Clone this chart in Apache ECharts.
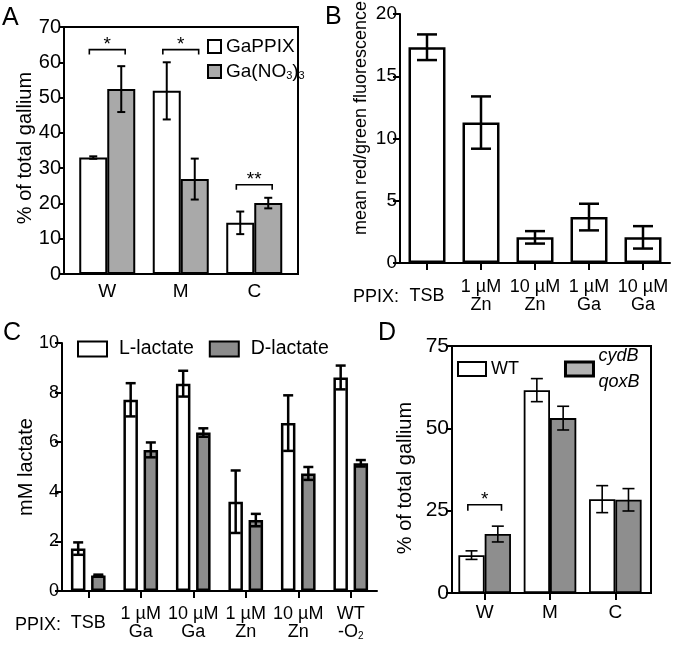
<!DOCTYPE html>
<html>
<head>
<meta charset="utf-8">
<script src="https://cdn.jsdelivr.net/npm/echarts@6/dist/echarts.min.js"></script>
<style>html,body{margin:0;padding:0;background:#fff}#c{width:675px;height:654px}</style>
</head>
<body>
<div id="c"></div>
<script>
// ---------- Panel A ----------
const aCategories = ['W', 'M', 'C'];
const aGaPPIX = [33.0, 51.9, 14.5];
const aGaPPIXErr = [0.35, 8.1, 3.2];
const aGaNO3 = [52.4, 26.9, 20.1];
const aGaNO3Err = [6.5, 5.8, 1.5];
const aSig = [[0, 63.6, '*'], [1, 63.6, '*'], [2, 25.3, '**']];
const aTicks = [0, 10, 20, 30, 40, 50, 60, 70];

// ---------- Panel B ----------
const bCategories = ['TSB', '1 µM\nZn', '10 µM\nZn', '1 µM\nGa', '10 µM\nGa'];
const bValues = [17.33, 11.28, 2.06, 3.69, 2.06];
const bErr = [1.03, 2.1, 0.5, 1.07, 0.9];
const bTicks = [0, 5, 10, 15, 20];

// ---------- Panel C ----------
const cCategories = ['TSB', '1 µM\nGa', '10 µM\nGa', '1 µM\nZn', '10 µM\nZn', 'WT\n-O2'];
const cL = [1.71, 7.71, 8.36, 3.6, 6.77, 8.61];
const cLErr = [0.25, 0.67, 0.52, 1.26, 1.12, 0.48];
const cD = [0.63, 5.69, 6.39, 2.86, 4.74, 5.15];
const cDErr = [0.03, 0.3, 0.17, 0.25, 0.26, 0.13];
const cTicks = [0, 2, 4, 6, 8, 10];

// ---------- Panel D ----------
const dCategories = ['W', 'M', 'C'];
const dWT = [11.5, 61.6, 28.5];
const dWTErr = [1.3, 3.5, 4.1];
const dMut = [17.9, 53.1, 28.3];
const dMutErr = [2.4, 3.6, 3.4];
const dSig = [[0, 26.8, '*']];
const dTicks = [0, 25, 50, 75];

const FONT = 'Liberation Sans, Arial, Helvetica, sans-serif';
const BLACK = '#000';

function layoutX(api, catX, k, n, catGap, barGap) {
  const band = api.size([1, 0])[0];
  const bw = band * (1 - catGap) / (n + (n - 1) * barGap);
  const total = n * bw + (n - 1) * barGap * bw;
  return { x: catX - total / 2 + k * bw * (1 + barGap) + bw / 2, bw: bw };
}

function errSeries(xi, yi, vals, errs, k, n, catGap, barGap, capW, lw) {
  return {
    type: 'custom', xAxisIndex: xi, yAxisIndex: yi, z: 10, silent: true,
    encode: { x: 0, y: [1, 2] },
    data: vals.map((v, i) => [i, v - errs[i], v + errs[i]]),
    renderItem: function (params, api) {
      const lo = api.coord([api.value(0), api.value(1)]);
      const hi = api.coord([api.value(0), api.value(2)]);
      const x = layoutX(api, lo[0], k, n, catGap, barGap).x;
      const st = { stroke: BLACK, lineWidth: lw };
      return { type: 'group', children: [
        { type: 'line', shape: { x1: x, y1: lo[1], x2: x, y2: hi[1] }, style: st },
        { type: 'line', shape: { x1: x - capW / 2, y1: lo[1], x2: x + capW / 2, y2: lo[1] }, style: st },
        { type: 'line', shape: { x1: x - capW / 2, y1: hi[1], x2: x + capW / 2, y2: hi[1] }, style: st }
      ]};
    }
  };
}

function sigSeries(xi, yi, sig, n, catGap, barGap, tip, fs) {
  return {
    type: 'custom', xAxisIndex: xi, yAxisIndex: yi, z: 10, silent: true,
    encode: { x: 0, y: 1 },
    data: sig,
    renderItem: function (params, api) {
      const p = api.coord([api.value(0), api.value(1)]);
      const bw = layoutX(api, p[0], 0, n, catGap, barGap).bw;
      const hw = bw * 0.64;
      const x1 = p[0] - hw, x2 = p[0] + hw;
      return { type: 'group', children: [
        { type: 'polyline', shape: { points: [[x1, p[1] + tip], [x1, p[1]], [x2, p[1]], [x2, p[1] + tip]] },
          style: { stroke: BLACK, lineWidth: 1.6, fill: null } },
        { type: 'text', x: p[0], y: p[1] + 5,
          style: { text: sig[params.dataIndex][2], font: fs + 'px ' + FONT, fill: BLACK,
                   align: 'center', verticalAlign: 'bottom' } }
      ]};
    }
  };
}

const chart = echarts.init(document.getElementById('c'), null, { renderer: 'canvas' });

const A_CG = 0.238, A_BG = 0;
const B_CG = 0.315;
const C_CG = 0.34, C_BG = 0.39;
const D_CG = 0.195, D_BG = 0;

const hiddenY = (gi, max) => ({ type: 'value', gridIndex: gi, min: 0, max: max, show: false });

function valueY(gi, max, interval, fs, tickLen) {
  return {
    type: 'value', gridIndex: gi, min: 0, max: max, interval: interval,
    axisLine: { show: true, lineStyle: { color: BLACK, width: 2 } },
    axisTick: { show: true, length: tickLen, lineStyle: { color: BLACK, width: 2 } },
    axisLabel: { fontSize: fs, color: BLACK, margin: 3, fontFamily: FONT },
    splitLine: { show: false }
  };
}

const option = {
  animation: false,
  backgroundColor: '#fff',
  textStyle: { fontFamily: FONT, color: BLACK },
  grid: [
    { left: 64, top: 27, width: 234, height: 247, show: true, borderColor: BLACK, borderWidth: 2 },
    { left: 70.5, top: 27, width: 220.5, height: 247 },
    { left: 400, top: 14, width: 270, height: 249 },
    { left: 62, top: 343, width: 315, height: 248 },
    { left: 452, top: 346, width: 199, height: 247, show: true, borderColor: BLACK, borderWidth: 2 },
    { left: 452, top: 346, width: 196, height: 247 }
  ],
  xAxis: [
    { type: 'value', gridIndex: 0, min: 0, max: 1, show: false },
    { type: 'category', gridIndex: 1, data: aCategories,
      axisLine: { show: false }, axisTick: { show: false },
      axisLabel: { fontSize: 19, color: BLACK, margin: 8 } },
    { type: 'category', gridIndex: 2, data: bCategories,
      axisLine: { show: true, lineStyle: { color: BLACK, width: 2 } },
      axisTick: { show: true, alignWithLabel: true, length: 7, lineStyle: { color: BLACK, width: 2 } },
      axisLabel: { fontSize: 18, color: BLACK, margin: 15, lineHeight: 18, interval: 0,
        formatter: (v, i) => i === 0 ? '{tsb|' + v + '}' : v,
        rich: { tsb: { fontSize: 18, lineHeight: 36 } } } },
    { type: 'category', gridIndex: 3, data: cCategories,
      axisLine: { show: true, lineStyle: { color: BLACK, width: 2 } },
      axisTick: { show: true, alignWithLabel: true, length: 7, lineStyle: { color: BLACK, width: 2 } },
      axisLabel: { fontSize: 18, color: BLACK, margin: 14, lineHeight: 18, interval: 0,
        formatter: function (v, i) {
          if (i === 0) return '{tsb|' + v + '}';
          if (v.indexOf('-O2') >= 0) return v.replace('-O2', '-O{sub|2}');
          return v;
        },
        rich: { tsb: { fontSize: 18, lineHeight: 36 },
                sub: { fontSize: 10, padding: [8, 0, 0, 0] } } } },
    { type: 'value', gridIndex: 4, min: 0, max: 1, show: false },
    { type: 'category', gridIndex: 5, data: dCategories,
      axisLine: { show: false },
      axisTick: { show: true, alignWithLabel: true, length: 7, inside: false, lineStyle: { color: BLACK, width: 2 } },
      axisLabel: { fontSize: 19, color: BLACK, margin: 10 } }
  ],
  yAxis: [
    valueY(0, 70, 10, 20, 5),
    hiddenY(1, 70),
    valueY(2, 20, 5, 19, 7),
    valueY(3, 10, 2, 18, 7),
    valueY(4, 75, 25, 21, 6),
    hiddenY(5, 75)
  ],
  legend: [
    { orient: 'vertical', left: 202, top: 32, itemWidth: 13, itemHeight: 13, itemGap: 6,
      icon: 'rect', data: ['GaPPIX', 'Ga(NO3)3'],
      textStyle: { fontSize: 19, color: BLACK,
        rich: { n: { fontSize: 19 }, s: { fontSize: 11, padding: [9, 0, 0, 0] } } },
      formatter: name => name === 'Ga(NO3)3' ? '{n|Ga(NO}{s|3}{n|)}{s|3}' : name },
    { orient: 'horizontal', left: 72, top: 334, itemWidth: 29, itemHeight: 15, itemGap: 15,
      icon: 'rect', data: ['L-lactate', 'D-lactate'],
      textStyle: { fontSize: 19.5, color: BLACK, padding: [0, 0, 0, 7] } },
    { orient: 'horizontal', left: 452, top: 342, itemWidth: 28, itemHeight: 14, itemGap: 45,
      icon: 'rect',
      data: [ { name: 'WT' }, { name: 'cydB qoxB', itemStyle: { color: '#b3b3b3', borderWidth: 3 } } ],
      textStyle: { fontSize: 18, color: BLACK,
        rich: { i: { fontSize: 18, fontStyle: 'italic', lineHeight: 26 } } },
      formatter: name => name === 'cydB qoxB' ? '{i|cydB}\n{i|qoxB}' : name }
  ],
  graphic: [
    { type: 'text', left: 2, top: 6, style: { text: 'A', font: '25px ' + FONT, fill: BLACK } },
    { type: 'text', left: 325, top: 5, style: { text: 'B', font: '25px ' + FONT, fill: BLACK } },
    { type: 'text', left: 3, top: 321, style: { text: 'C', font: '25px ' + FONT, fill: BLACK } },
    { type: 'text', left: 378, top: 321, style: { text: 'D', font: '25px ' + FONT, fill: BLACK } },
    { type: 'text', x: 25, y: 148, rotation: Math.PI / 2,
      style: { text: '% of total gallium', font: '20px ' + FONT, fill: BLACK, align: 'center', verticalAlign: 'middle' } },
    { type: 'text', x: 361, y: 118, rotation: Math.PI / 2,
      style: { text: 'mean red/green fluorescence', font: '18px ' + FONT, fill: BLACK, align: 'center', verticalAlign: 'middle' } },
    { type: 'text', x: 26, y: 467, rotation: Math.PI / 2,
      style: { text: 'mM lactate', font: '20px ' + FONT, fill: BLACK, align: 'center', verticalAlign: 'middle' } },
    { type: 'text', x: 405, y: 478, rotation: Math.PI / 2,
      style: { text: '% of total gallium', font: '20px ' + FONT, fill: BLACK, align: 'center', verticalAlign: 'middle' } },
    { type: 'text', x: 353, y: 297, style: { text: 'PPIX:', font: '18px ' + FONT, fill: BLACK, align: 'left', verticalAlign: 'middle' } },
    { type: 'text', x: 15, y: 625, style: { text: 'PPIX:', font: '18px ' + FONT, fill: BLACK, align: 'left', verticalAlign: 'middle' } }
  ],
  series: [
    // A
    { name: 'GaPPIX', type: 'bar', xAxisIndex: 1, yAxisIndex: 1, data: aGaPPIX,
      barGap: '0%', barCategoryGap: (A_CG * 100) + '%',
      itemStyle: { color: '#fff', borderColor: BLACK, borderWidth: 2 } },
    { name: 'Ga(NO3)3', type: 'bar', xAxisIndex: 1, yAxisIndex: 1, data: aGaNO3,
      barGap: '0%', barCategoryGap: (A_CG * 100) + '%',
      itemStyle: { color: '#a9a9a9', borderColor: BLACK, borderWidth: 2 } },
    errSeries(1, 1, aGaPPIX, aGaPPIXErr, 0, 2, A_CG, A_BG, 8, 2),
    errSeries(1, 1, aGaNO3, aGaNO3Err, 1, 2, A_CG, A_BG, 8, 2),
    sigSeries(1, 1, aSig, 2, A_CG, A_BG, 5, 19),
    // B
    { name: 'B', type: 'bar', xAxisIndex: 2, yAxisIndex: 2, data: bValues,
      barCategoryGap: (B_CG * 100) + '%',
      itemStyle: { color: '#fff', borderColor: BLACK, borderWidth: 2.5 } },
    errSeries(2, 2, bValues, bErr, 0, 1, B_CG, 0, 20, 2.5),
    // C
    { name: 'L-lactate', type: 'bar', xAxisIndex: 3, yAxisIndex: 3, data: cL,
      barGap: (C_BG * 100) + '%', barCategoryGap: (C_CG * 100) + '%',
      itemStyle: { color: '#fff', borderColor: BLACK, borderWidth: 2.5 } },
    { name: 'D-lactate', type: 'bar', xAxisIndex: 3, yAxisIndex: 3, data: cD,
      barGap: (C_BG * 100) + '%', barCategoryGap: (C_CG * 100) + '%',
      itemStyle: { color: '#8c8c8c', borderColor: BLACK, borderWidth: 2.5 } },
    errSeries(3, 3, cL, cLErr, 0, 2, C_CG, C_BG, 10, 2.5),
    errSeries(3, 3, cD, cDErr, 1, 2, C_CG, C_BG, 10, 2.5),
    // D
    { name: 'WT', type: 'bar', xAxisIndex: 5, yAxisIndex: 5, data: dWT,
      barGap: '0%', barCategoryGap: (D_CG * 100) + '%',
      itemStyle: { color: '#fff', borderColor: BLACK, borderWidth: 1.8 } },
    { name: 'cydB qoxB', type: 'bar', xAxisIndex: 5, yAxisIndex: 5, data: dMut,
      barGap: '0%', barCategoryGap: (D_CG * 100) + '%',
      itemStyle: { color: '#8e8e8e', borderColor: BLACK, borderWidth: 1.8 } },
    errSeries(5, 5, dWT, dWTErr, 0, 2, D_CG, D_BG, 12, 1.6),
    errSeries(5, 5, dMut, dMutErr, 1, 2, D_CG, D_BG, 12, 1.6),
    sigSeries(5, 5, dSig, 2, D_CG, D_BG, 6, 19)
  ]
};
chart.setOption(option);
</script>
</body>
</html>
